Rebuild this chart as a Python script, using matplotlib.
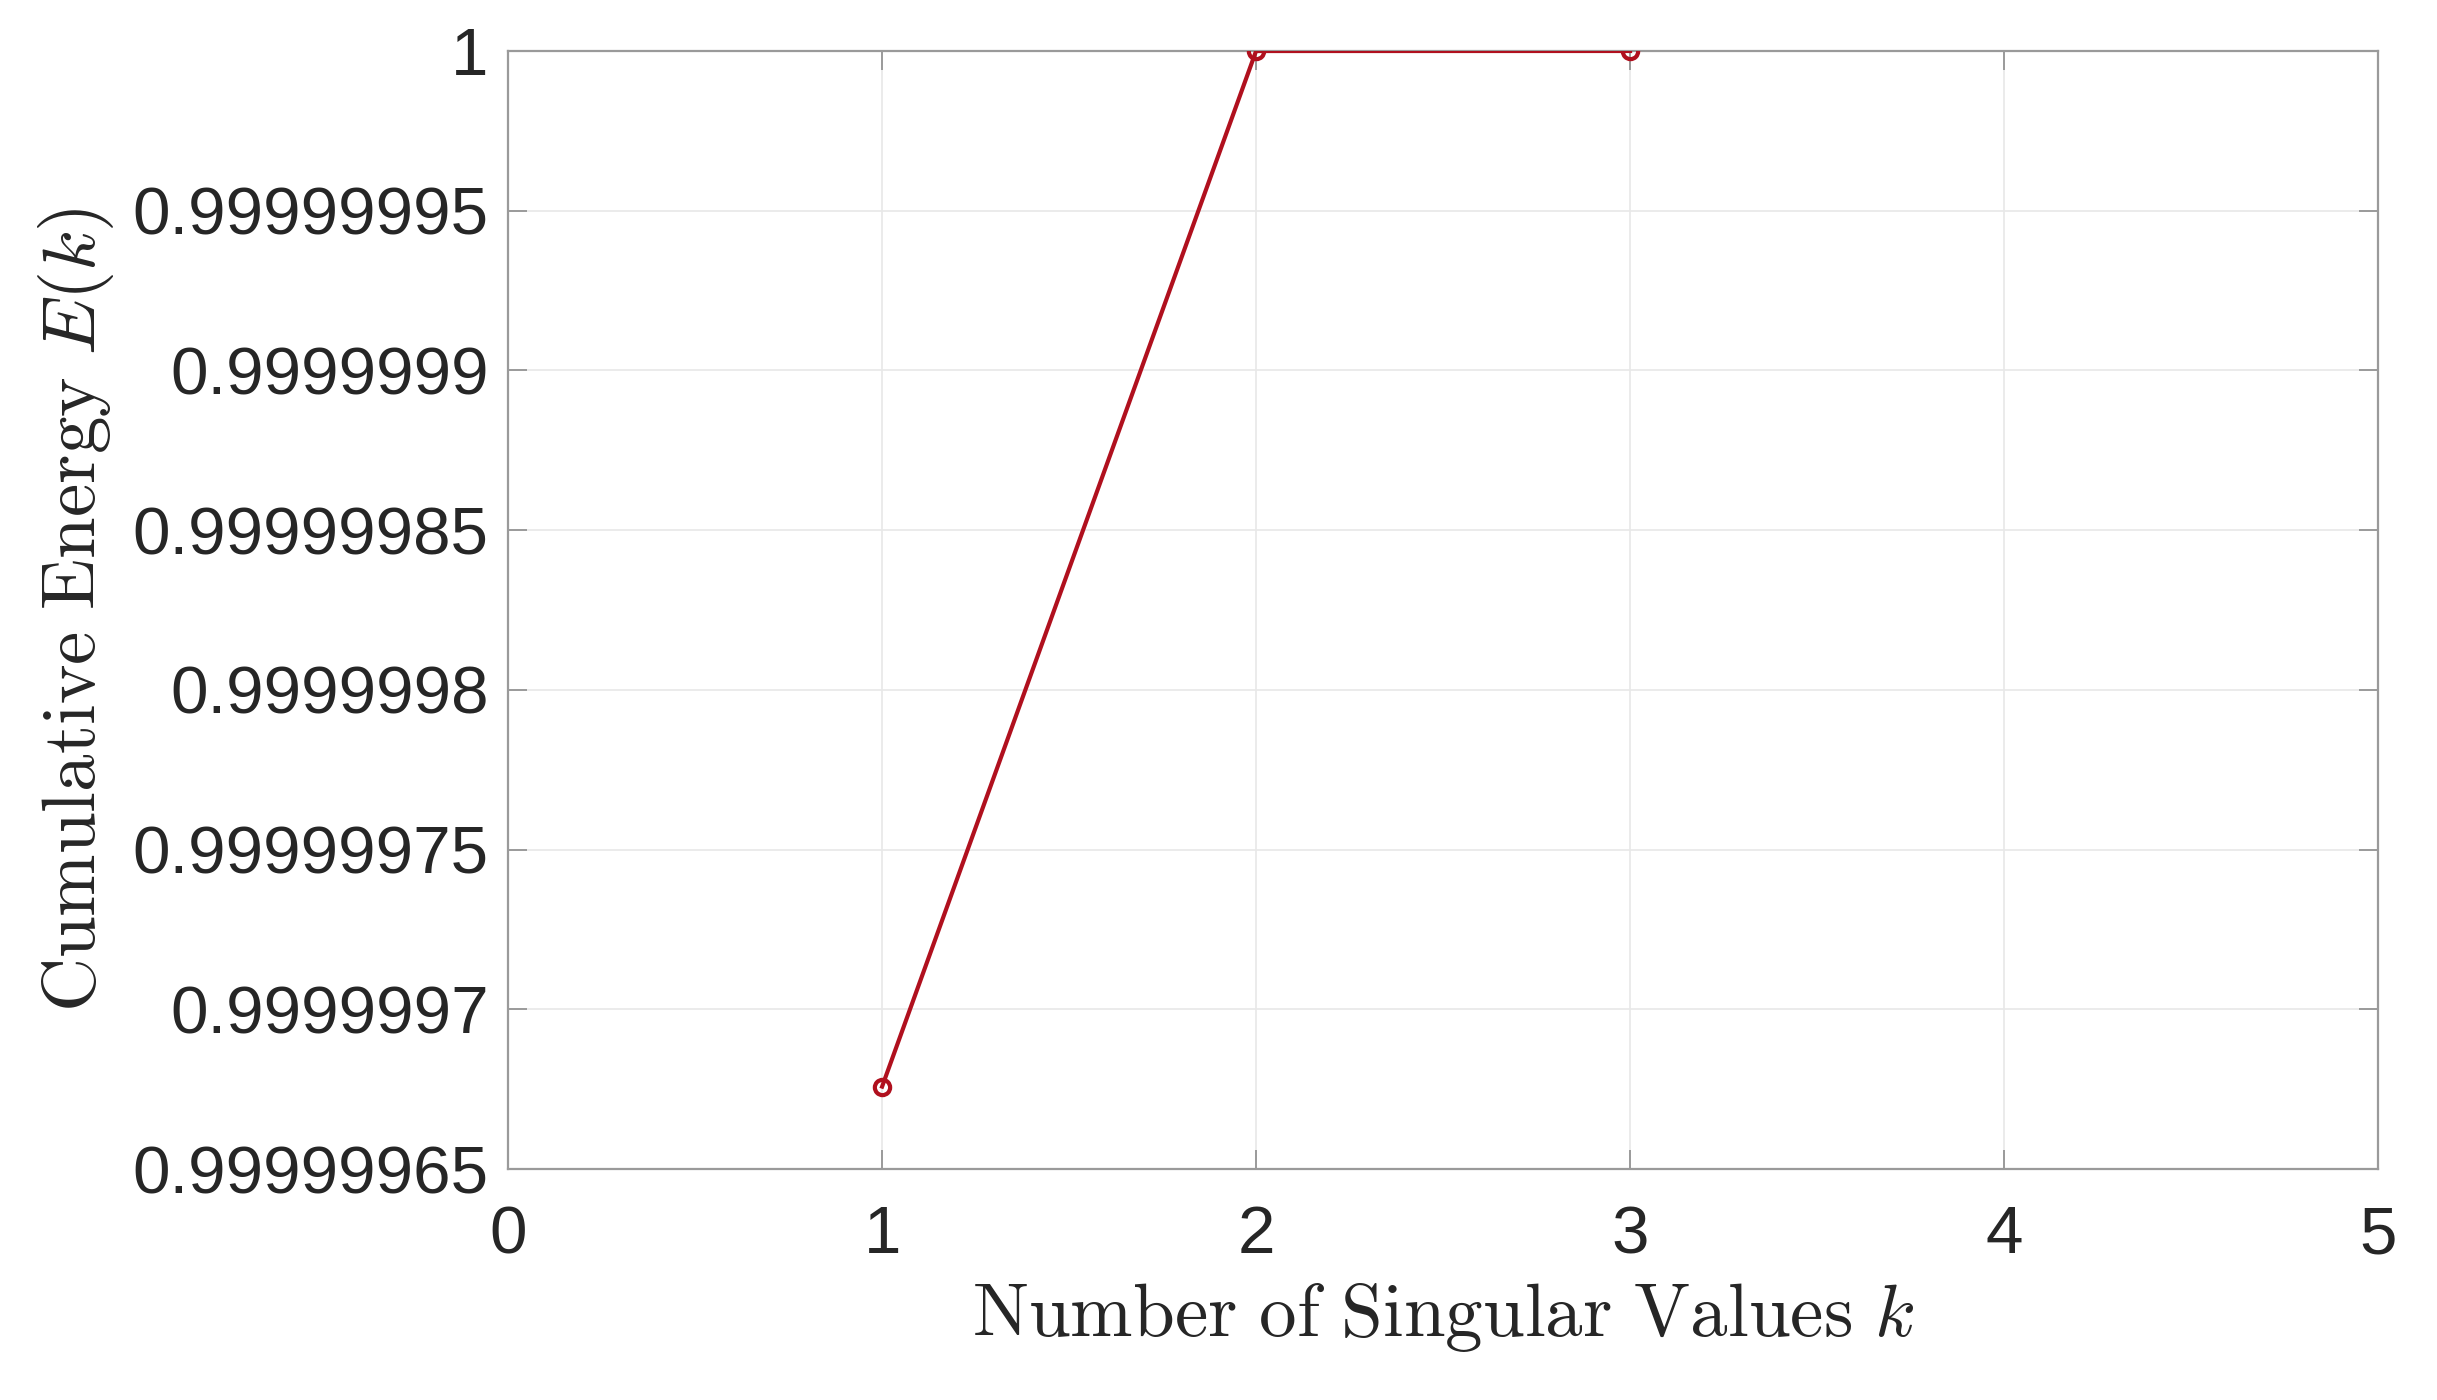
import numpy as np
import matplotlib
matplotlib.use('Agg')
import matplotlib.pyplot as plt
from matplotlib.ticker import FixedLocator, FixedFormatter

# data
k_values = [1, 2, 3]
energy = [0.99999967580, 0.99999999998, 0.99999999999]

x_ticks = [0, 1, 2, 3, 4, 5]
y_ticks = [0.99999965, 0.9999997, 0.99999975, 0.9999998, 0.99999985,
           0.9999999, 0.99999995, 1.0]
y_tick_labels = ['0.99999965', '0.9999997', '0.99999975', '0.9999998',
                 '0.99999985', '0.9999999', '0.99999995', '1']

plt.rcParams['mathtext.fontset'] = 'cm'
plt.rcParams['font.family'] = ['Liberation Sans', 'DejaVu Sans']

fig = plt.figure(figsize=(24.37, 14), dpi=100)
ax = fig.add_axes([0.2085, 0.165, 0.7673, 0.7986])

ax.plot(k_values, energy, color='#B0101E', linewidth=3.0,
        marker='o', markersize=11, markerfacecolor='none',
        markeredgewidth=3.0, zorder=3)

ax.set_xlim(0, 5)
ax.set_ylim(0.99999965, 1.0)
ax.xaxis.set_major_locator(FixedLocator(x_ticks))
ax.yaxis.set_major_locator(FixedLocator(y_ticks))
ax.yaxis.set_major_formatter(FixedFormatter(y_tick_labels))

ax.grid(True, color='#e8e8e8', linewidth=1.2)
ax.set_axisbelow(True)
for s in ax.spines.values():
    s.set_color('#9a9a9a')
    s.set_linewidth(1.6)

ax.tick_params(axis='both', which='major', direction='in', length=14,
               width=1.4, color='#9a9a9a', labelsize=48.5,
               labelcolor='#262626', top=True, right=True)
ax.tick_params(axis='y', pad=14)
ax.tick_params(axis='x', pad=26)

ax.set_xlabel(r'$\mathrm{Number\ of\ Singular\ Values}\ k$',
              fontsize=54, color='#262626', labelpad=10)
ax.set_ylabel(r'$\mathrm{Cumulative\ Energy}\ E(k)$',
              fontsize=54, color='#262626', labelpad=12)

fig.savefig('out.png', dpi=100, facecolor='white')
